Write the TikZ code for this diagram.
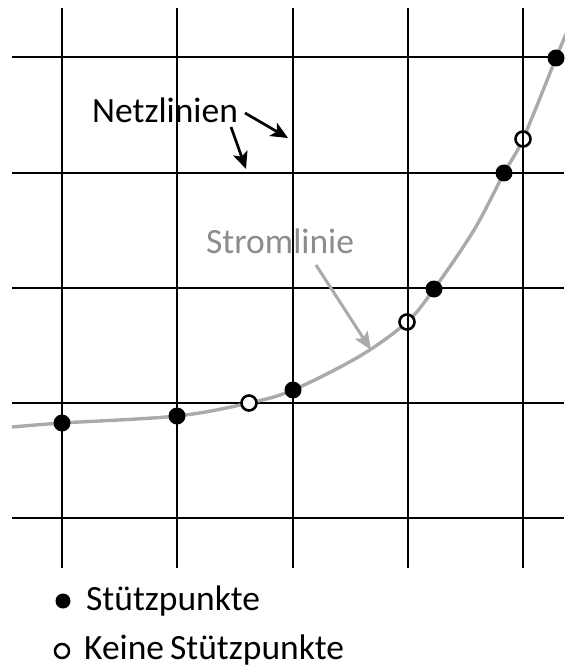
\documentclass[tikz,border=0pt]{standalone}
\usepackage{fontspec}
\setmainfont{Carlito}
\usetikzlibrary{arrows.meta}
\begin{document}
\begin{tikzpicture}[x=1pt,y=-1pt,
  gridline/.style={line width=2.7pt,black},
  filledpt/.style={circle,fill=black,inner sep=0pt,minimum size=17pt},
  openpt/.style={circle,draw=black,line width=2.6pt,fill=white,inner sep=0pt,minimum size=15pt},
  legfilled/.style={circle,fill=black,inner sep=0pt,minimum size=15pt},
  legopen/.style={circle,draw=black,line width=2.5pt,inner sep=0pt,minimum size=14pt},
  lbl/.style={inner sep=0pt,font=\fontsize{35.5}{40}\selectfont},
  blackarrow/.style={line width=2.7pt,-{Stealth[length=17pt,width=15pt,inset=4pt]}},
  greyarrow/.style={line width=3pt,draw=streamgrey,-{Stealth[length=18pt,width=15pt,inset=4pt]}}
]
\definecolor{streamgrey}{RGB}{170,170,170}
\definecolor{textgrey}{RGB}{140,140,140}
\useasboundingbox (0,0) rectangle (564,668);
\fill[white] (0,0) rectangle (564,668);
% horizontal grid lines
\foreach \gy in {57,173,288,403,518} \draw[gridline] (12,\gy) -- (564,\gy);
% streamline
\draw[streamgrey,line width=3.4pt] plot[smooth,tension=0.55] coordinates
  {(12,427) (62,423) (177,416) (249,403) (293,390) (360,356) (407,322) (434,289) (474,230) (504,173) (523,139) (556,58) (566,34)};
% open points
\node[openpt] (o1) at (249,403) {};
\node[openpt] (o2) at (407,322) {};
\node[openpt] (o3) at (523,139) {};
% vertical grid lines
\foreach \gx in {62,177,293,408,523} \draw[gridline] (\gx,8) -- (\gx,568);
% filled points
\node[filledpt] (f1) at (62,423) {};
\node[filledpt] (f2) at (177,416) {};
\node[filledpt] (f3) at (293,390) {};
\node[filledpt] (f4) at (434,289) {};
\node[filledpt] (f5) at (504,173) {};
\node[filledpt] (f6) at (556,58) {};
% labels
\node[lbl,anchor=base west] (netz) at (92,123) {Netzlinien};
\node[lbl,anchor=base west,text=textgrey] (strom) at (206,253) {Stromlinie};
\coordinate (na1) at (245,113);
\coordinate (nt1) at (288,138);
\coordinate (na2) at (231,127);
\coordinate (nt2) at (246,169);
\draw[blackarrow] (na1) -- (nt1);
\draw[blackarrow] (na2) -- (nt2);
\coordinate (sa) at (316,265);
\coordinate (st) at (371,350);
\draw[greyarrow] (sa) -- (st);
% legend
\node[legfilled] (lf) at (63,601) {};
\node[lbl,anchor=base west] (lft) at (86,610) {Stützpunkte};
\node[legopen] (lo) at (62,651) {};
\node[lbl,anchor=base west] (lot) at (84,659) {Keine\kern-2pt\ Stützpunkte};
\end{tikzpicture}
\end{document}
